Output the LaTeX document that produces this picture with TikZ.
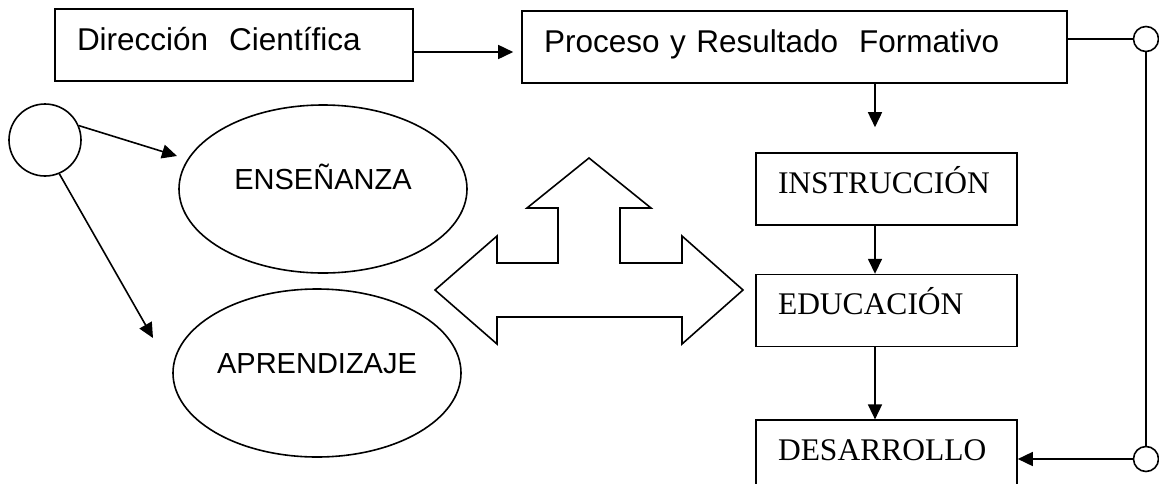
\documentclass[tikz,border=0pt]{standalone}
\usepackage{fontspec}
\setmainfont{Liberation Serif}
\newfontfamily\arialfont{Liberation Sans}
\usetikzlibrary{arrows.meta,positioning,shapes.geometric}

\tikzset{
  sansbox/.style={draw,rectangle,minimum height=72pt,inner xsep=22pt,inner ysep=0pt,
    align=left,text height=10pt,text depth=0pt,font=\arialfont\fontsize{31.5}{36}\selectfont},
  serifbox/.style={draw,rectangle,minimum height=72pt,text width=217pt,inner xsep=22pt,
    inner ysep=0pt,align=left,text height=8pt,text depth=0pt,font=\fontsize{31.5}{36}\selectfont},
  blob/.style={draw,ellipse,minimum width=288pt,minimum height=168pt,inner sep=0pt,
    text height=0pt,text depth=0pt,font=\arialfont\fontsize{29}{34}\selectfont},
  knot/.style={draw,circle,minimum size=25pt,inner sep=0pt}
}

\begin{document}
\begin{tikzpicture}[x=1pt,y=-1pt,line width=1.6pt,>={Triangle[length=15pt,width=14pt]}]
\useasboundingbox (0,0) rectangle (1159,483);
\clip (0,0) rectangle (1159,483);

% top row
\node[sansbox,text width=314pt] (dir) at (234,45) {Dirección\ \ Científica};
\node[sansbox,text width=501pt] (proc) at (794.5,47) {Proceso y Resultado\ \ Formativo};

% right column
\node[serifbox] (instr) at (886.5,189) {INSTRUCCIÓN};
\node[serifbox,below=48pt of instr] (educ) {EDUCACIÓN};
\node[serifbox,below=72pt of educ] (desa) {DESARROLLO};

\node[knot] (ktop) at (1146,39) {};
\node[knot] (kbot) at (1146,459) {};

% left side
\node[draw,circle,minimum size=72pt,inner sep=0pt] (src) at (45,140) {};
\node[blob] (ens) at (323,189) {ENSEÑANZA};
\node[blob] (apr) at (317,373) {APRENDIZAJE};
\coordinate (ensin) at (177,156);
\coordinate (aprin) at (153,338);

\draw[->] ([yshift=-7pt]dir.east) -- ([xshift=-8pt,yshift=-5pt]proc.west);
\draw[->] ([xshift=-11.5pt]instr.north |- proc.south) -- ([xshift=-11.5pt,yshift=25pt]instr.north);
\draw[->] ([xshift=-11.5pt]instr.south) -- ([xshift=-11.5pt]educ.north);
\draw[->] ([xshift=-11.5pt]educ.south) -- ([xshift=-11.5pt]desa.north);
\draw (proc.east |- ktop) -- (ktop.west);
\draw (ktop) -- (kbot);
\draw[->] (kbot) -- (kbot -| desa.east);
\draw[->] (src.23) -- (ensin);
\draw[->] (src.-67) -- (aprin);

% three way arrow
\draw (589,158) -- (651,208) -- (620,208) -- (620,263) -- (682,263) -- (682,236)
  -- (743,290) -- (682,344) -- (682,317) -- (497,317) -- (497,344) -- (435,290)
  -- (497,236) -- (497,263) -- (558,263) -- (558,208) -- (527,208) -- cycle;
\end{tikzpicture}
\end{document}
